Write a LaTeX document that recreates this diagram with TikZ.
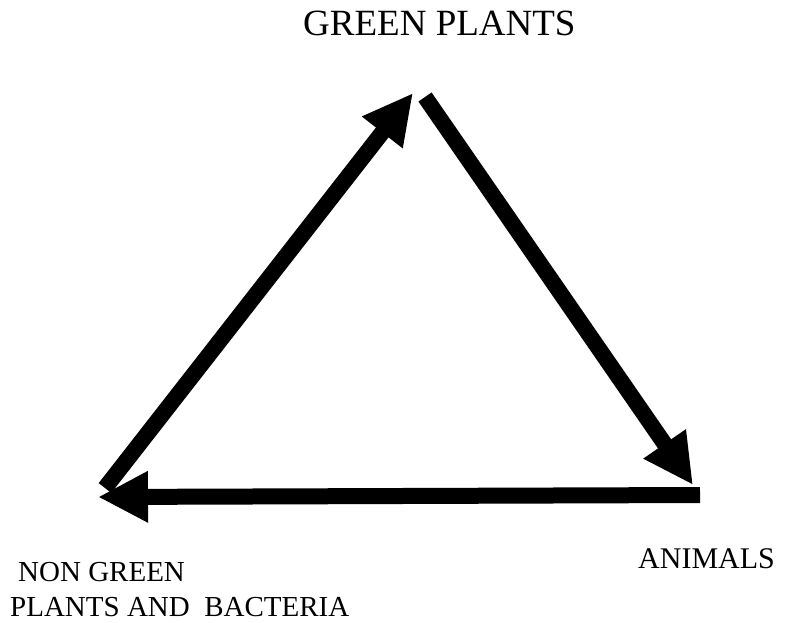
\documentclass[tikz,border=0pt]{standalone}
\usepackage{fontspec}
\setmainfont{Liberation Serif}
\usetikzlibrary{arrows.meta}

\begin{document}
\begin{tikzpicture}[x=1pt, y=-1pt,
  lbl/.style={anchor=base west, inner sep=0pt},
  arr/.style={-{Triangle[length=50pt, width=48pt]}, line width=16pt}]
  \useasboundingbox (0,0) rectangle (786,622);

  % corners of the cycle
  \coordinate (plantsin) at (413,93);
  \coordinate (plantsout) at (425,97);
  \coordinate (animalsin) at (693,485);
  \coordinate (animalsout) at (700,495);
  \coordinate (bacteriain) at (98,497);
  \coordinate (bacteriaout) at (105,488);

  \node[lbl, font=\fontsize{37}{44}\selectfont] (plants) at (303,35) {GREEN PLANTS};
  \node[lbl, font=\fontsize{30}{36}\selectfont] (animals) at (638,568) {ANIMALS};
  \node[lbl, font=\fontsize{29}{36}\selectfont] (nongreen) at (18,581) {NON GREEN};
  \node[lbl, font=\fontsize{29}{36}\selectfont] (bacteria) at (10,616) {PLANTS AND~~BACTERIA};

  \draw[arr] (bacteriaout) -- (plantsin);
  \draw[arr] (plantsout) -- (animalsin);
  \draw[arr] (animalsout) -- (bacteriain);
\end{tikzpicture}
\end{document}
